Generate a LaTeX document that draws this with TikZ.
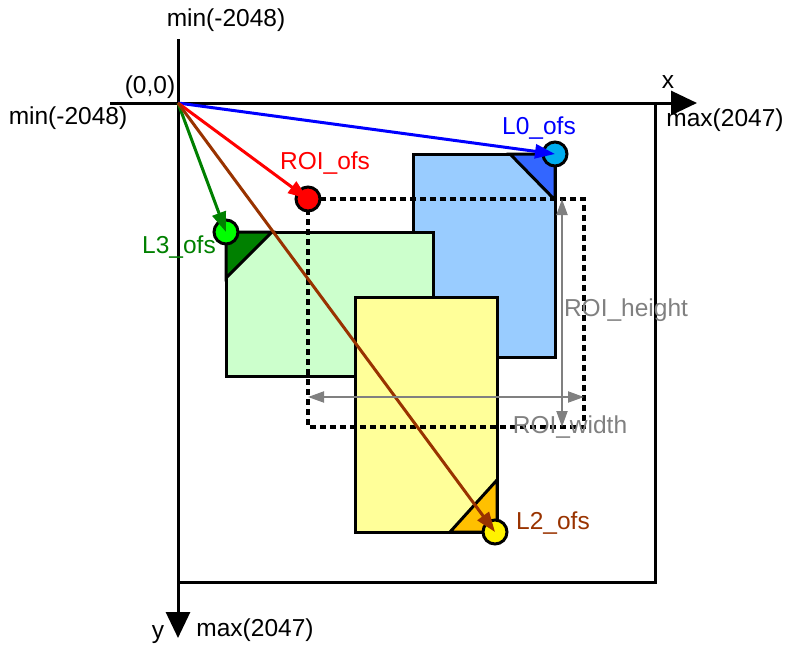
\documentclass[tikz,border=0pt]{standalone}
\usepackage{fontspec}
\setmainfont{Liberation Sans}
\usetikzlibrary{arrows.meta}
\definecolor{ltblue}{RGB}{153,204,255}
\definecolor{dkblue}{RGB}{51,102,255}
\definecolor{ltgreen}{RGB}{204,255,204}
\definecolor{dkgreen}{RGB}{0,128,0}
\definecolor{ltyellow}{RGB}{255,255,153}
\definecolor{amber}{RGB}{255,192,0}
\definecolor{rust}{RGB}{153,51,0}
\definecolor{dimgray}{RGB}{128,128,128}
\begin{document}
\begin{tikzpicture}[
  x=1pt, y=-1pt,
  font=\fontsize{24.5}{28}\selectfont,
  axis/.style={line width=3pt, -{Triangle[length=26pt,width=24pt]}},
  layer/.style={draw, line width=3pt, line join=miter},
  ofs/.style={circle, draw, line width=3pt, minimum size=24pt, inner sep=0pt},
  vec/.style={line width=3pt, -{Triangle[length=20pt,width=14pt]}},
  dim/.style={dimgray, line width=2pt, {Triangle[length=16pt,width=11pt]}-{Triangle[length=16pt,width=11pt]}}]
  \useasboundingbox (0,0) rectangle (788,646);
  \coordinate (o) at (178,103);
  % frame and axes
  \draw[line width=3pt] (178,103) rectangle (655,582);
  \coordinate (xs) at (110,103);
  \coordinate (xe) at (697,103);
  \coordinate (ys) at (178,39);
  \coordinate (ye) at (178,638);
  \draw[axis] (xs) -- (xe);
  \draw[axis] (ys) -- (ye);
  \node (ymin) at (226,20) {min(-2048)};
  \node (orig) at (150,87) {(0,0)};
  \node (xmin) at (68,118) {min(-2048)};
  \node (xlab) at (668,82) {x};
  \node (xmax) at (725,120) {max(2047)};
  \node (ylab) at (158,635) {y};
  \node (ymax) at (255,630) {max(2047)};
  % layers
  \filldraw[layer, fill=ltblue] (413,154) rectangle (555,357);
  \filldraw[layer, fill=dkblue] (510,154) -- (555,154) -- (555,200) -- cycle;
  \filldraw[layer, fill=ltgreen] (226,232) rectangle (433,376);
  \filldraw[layer, fill=dkgreen] (226,232) -- (272,232) -- (226,278) -- cycle;
  \filldraw[layer, fill=ltyellow] (355,297) rectangle (497,532);
  \filldraw[layer, fill=amber] (497,480) -- (497,532) -- (450,532) -- cycle;
  % roi
  \draw[line width=4pt, dash pattern=on 6pt off 4pt] (308,199) rectangle (584,427);
  \node[ofs, fill=cyan] (l0) at (555,154) {};
  \node[ofs, fill=red] (roi) at (308,199) {};
  \node[ofs, fill=green] (l3) at (226,232) {};
  \node[ofs, fill=yellow] (l2) at (495,532) {};
  \draw[vec, blue] (o) -- (l0.center);
  \draw[vec, red] (o) -- (roi.center);
  \draw[vec, dkgreen] (o) -- (l3.center);
  \draw[vec, rust] (o) -- (l2.center);
  \node[blue] (l0lab) at (539,128) {L0\_ofs};
  \node[red] (roilab) at (325,163) {ROI\_ofs};
  \node[dkgreen] (l3lab) at (179,247) {L3\_ofs};
  \node[rust] (l2lab) at (553,523) {L2\_ofs};
  % sizes
  \coordinate (ht) at (562,199);
  \coordinate (hb) at (562,427);
  \coordinate (wl) at (308,397);
  \coordinate (wr) at (584,397);
  \draw[dim] (ht) -- (hb);
  \draw[dim] (wl) -- (wr);
  \node[dimgray] (hlab) at (626,310) {ROI\_height};
  \node[dimgray] (wlab) at (570,427) {ROI\_width};
\end{tikzpicture}
\end{document}
